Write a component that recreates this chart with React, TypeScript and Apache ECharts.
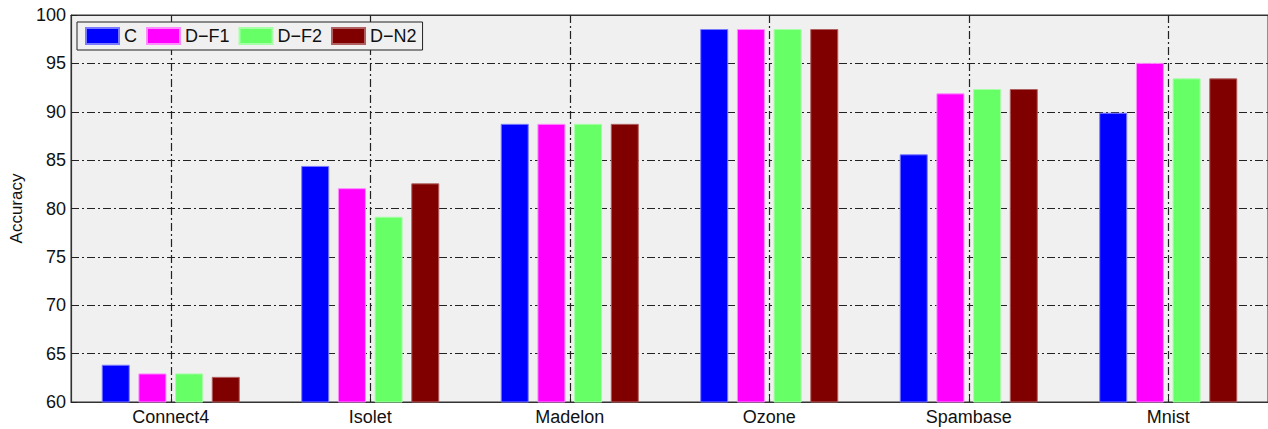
import React, { useEffect, useRef } from "react";
import * as echarts from "echarts";

// Datasets on the x axis
const categories = ["Connect4", "Isolet", "Madelon", "Ozone", "Spambase", "Mnist"];

// Accuracy (%) per method
const seriesNames = ["C", "D\u2212F1", "D\u2212F2", "D\u2212N2"];
const accC = [63.85, 84.4, 88.75, 98.55, 85.6, 89.9];
const accDF1 = [62.95, 82.1, 88.75, 98.55, 91.9, 95.05];
const accDF2 = [62.95, 79.15, 88.75, 98.55, 92.35, 93.45];
const accDN2 = [62.6, 82.6, 88.75, 98.55, 92.35, 93.45];

const yTicks = [60, 65, 70, 75, 80, 85, 90, 95, 100];

const seriesData = [accC, accDF1, accDF2, accDN2];
const fills = ["#0000ff", "#ff00ff", "#66ff66", "#800000"];
const edges = ["#7a7aff", "#ff8cff", "#a6ffa6", "#b06060"];

const FONT = "Liberation Sans, Arial, Helvetica, sans-serif";
const dashDot = [8, 3, 2, 3];

export default function App() {
  const ref = useRef<HTMLDivElement>(null);

  useEffect(() => {
    if (!ref.current) return;
    const chart = echarts.init(ref.current, null, { renderer: "svg" });

    const option = {
      animation: false,
      grid: {
        left: 71,
        top: 15,
        right: -10,
        bottom: 27,
        show: true,
        backgroundColor: "#f0f0f0",
        borderColor: "#333",
        borderWidth: 1,
      },
      legend: {
        left: 77,
        top: 22,
        orient: "horizontal",
        data: seriesNames,
        icon: "rect",
        itemWidth: 33,
        itemHeight: 16,
        itemGap: 9,
        padding: [5, 6, 5, 8],
        backgroundColor: "#f0f0f0",
        borderColor: "#222",
        borderWidth: 1,
        textStyle: { fontFamily: FONT, fontSize: 18, color: "#111", lineHeight: 16 },
      },
      xAxis: [
        {
          type: "category",
          data: categories,
          position: "bottom",
          axisLine: { show: true, lineStyle: { color: "#333", width: 1.2 } },
          axisTick: { show: true, inside: true, alignWithLabel: true, length: 6, lineStyle: { color: "#222" } },
          axisLabel: { fontFamily: FONT, fontSize: 18, color: "#111", margin: 6 },
          splitLine: {
            show: true,
            alignWithLabel: true,
            lineStyle: { color: "#222", width: 1.2, type: dashDot },
          },
        },
        {
          type: "category",
          data: categories,
          position: "top",
          axisLine: { show: true, lineStyle: { color: "#333", width: 1.2 } },
          axisTick: { show: true, inside: true, alignWithLabel: true, length: 6, lineStyle: { color: "#222" } },
          axisLabel: { show: false },
          splitLine: { show: false },
        },
      ],
      yAxis: [
        {
          type: "value",
          min: yTicks[0],
          max: yTicks[yTicks.length - 1],
          interval: 5,
          name: "Accuracy",
          nameLocation: "middle",
          nameRotate: 90,
          nameGap: 46,
          nameTextStyle: { fontFamily: FONT, fontSize: 17, color: "#111" },
          axisLine: { show: true, lineStyle: { color: "#333", width: 1.2 } },
          axisTick: { show: true, inside: true, length: 6, lineStyle: { color: "#222" } },
          axisLabel: { fontFamily: FONT, fontSize: 18, color: "#111", margin: 5 },
          splitLine: {
            show: true,
            lineStyle: { color: "#222", width: 1.2, type: dashDot },
          },
        },
      ],
      series: seriesData.map((values, i) => ({
        name: seriesNames[i],
        type: "bar",
        xAxisIndex: 0,
        yAxisIndex: 0,
        data: values,
        barWidth: 28,
        barGap: "31%",
        itemStyle: { color: fills[i], borderColor: edges[i], borderWidth: 1 },
      })),
    };

    chart.setOption(option);
    return () => chart.dispose();
  }, []);

  return (
    <div
      ref={ref}
      style={{ position: "absolute", left: 0, top: 0, width: 1268, height: 429, background: "#fff" }}
    />
  );
}
